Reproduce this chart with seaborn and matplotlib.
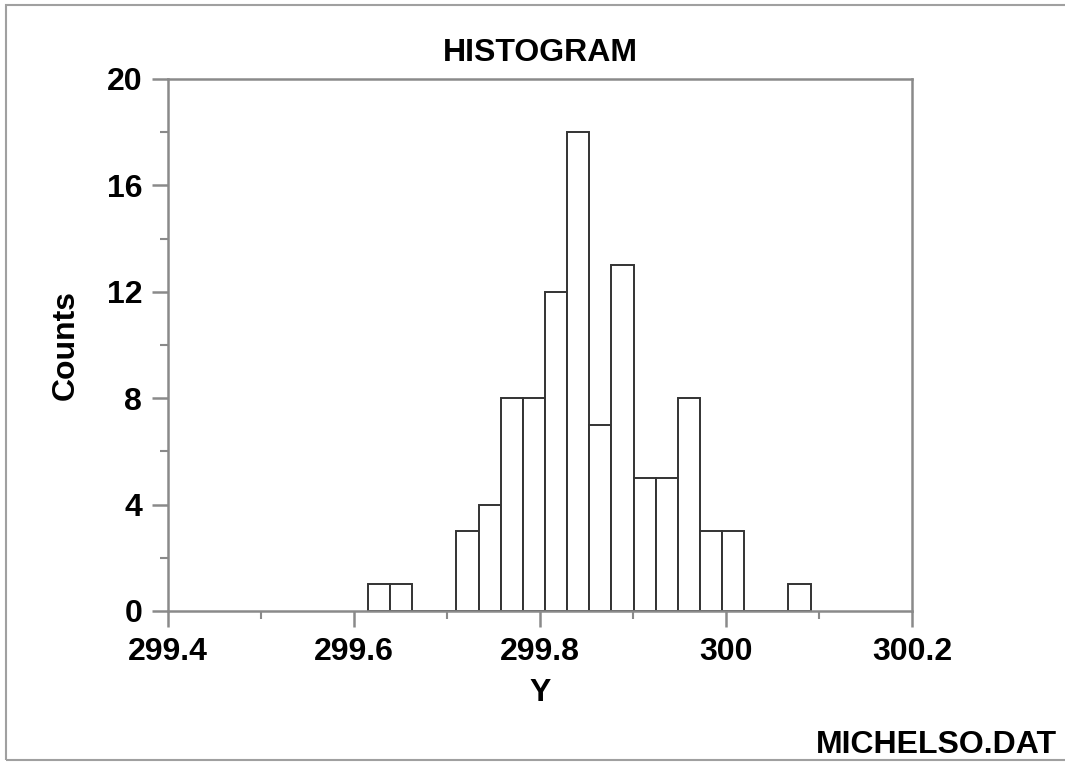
import numpy as np
import pandas as pd
import matplotlib
matplotlib.use('Agg')
import matplotlib.pyplot as plt
import seaborn as sns
from matplotlib.patches import Rectangle
from matplotlib.ticker import MultipleLocator

# Histogram of MICHELSO.DAT (bin counts)
bin_start = 299.615
bin_width = 0.0238
counts = [1, 1, 0, 0, 3, 4, 8, 8, 12, 18, 7, 13, 5, 5, 8, 3, 3, 0, 0, 1]
x_ticks = [299.4, 299.6, 299.8, 300.0, 300.2]
x_tick_labels = ['299.4', '299.6', '299.8', '300', '300.2']
y_ticks = [0, 4, 8, 12, 16, 20]

n_bins = len(counts)
bin_stop = bin_start + bin_width * n_bins
df = pd.DataFrame({'Y': bin_start + bin_width * (np.arange(n_bins) + 0.5),
                   'count': counts})

sns.set_style('white')
plt.rcParams['font.family'] = ['Liberation Sans', 'DejaVu Sans']
plt.rcParams['font.weight'] = 'bold'
plt.rcParams['text.color'] = 'black'
plt.rcParams['axes.labelcolor'] = 'black'
plt.rcParams['xtick.labelcolor'] = 'black'
plt.rcParams['ytick.labelcolor'] = 'black'
fs = 23

fig = plt.figure(figsize=(10.65, 7.62), dpi=100)
ax = fig.add_axes([168 / 1065, 1 - 611 / 762, 744 / 1065, 532 / 762])

sns.histplot(data=df, x='Y', weights='count', bins=n_bins,
             binrange=(bin_start, bin_stop), ax=ax,
             color='white', edgecolor='#333333', linewidth=1.4, alpha=1)

ax.set_xlim(299.4, 300.2)
ax.set_ylim(0, 20)
ax.set_xticks(x_ticks)
ax.set_xticklabels(x_tick_labels)
ax.set_yticks(y_ticks)
ax.xaxis.set_minor_locator(MultipleLocator(0.1))
ax.yaxis.set_minor_locator(MultipleLocator(2))

gray = '#8a8a8a'
for sp in ax.spines.values():
    sp.set_visible(True)
    sp.set_color(gray)
    sp.set_linewidth(1.8)

ax.tick_params(which='major', direction='out', length=11.5, width=1.8,
               color=gray, labelsize=fs, labelcolor='black', pad=7)
ax.tick_params(which='minor', direction='out', length=6, width=1.5,
               color=gray)
ax.tick_params(axis='x', which='both', bottom=True, top=False)
ax.tick_params(axis='y', which='both', left=True, right=False)
for lab in ax.get_xticklabels() + ax.get_yticklabels():
    lab.set_fontweight('bold')

ax.set_xlabel('Y', fontsize=fs, fontweight='bold', color='black')
ax.set_ylabel('Counts', fontsize=fs, fontweight='bold', color='black')
ax.xaxis.set_label_coords(0.5, -0.154)
ax.yaxis.set_label_coords(-0.138, 0.5)
ax.xaxis.label.set_va('center')
ax.yaxis.label.set_va('center')

ax.text(0.5, 1.048, 'HISTOGRAM', transform=ax.transAxes, ha='center',
        va='center', fontsize=fs, fontweight='bold', color='black')

fig.text(1057 / 1065, 1 - 745 / 762, 'MICHELSO.DAT', ha='right',
         va='center', fontsize=fs, fontweight='bold', color='black')

# frame around the page (open on the right side)
fig.patches.append(Rectangle((5.5 / 1065, 1 - 760 / 762), 1.2,
                             755 / 762, transform=fig.transFigure,
                             fill=False, edgecolor='#a0a0a0', linewidth=1.5))

fig.savefig('out.png', dpi=100)
